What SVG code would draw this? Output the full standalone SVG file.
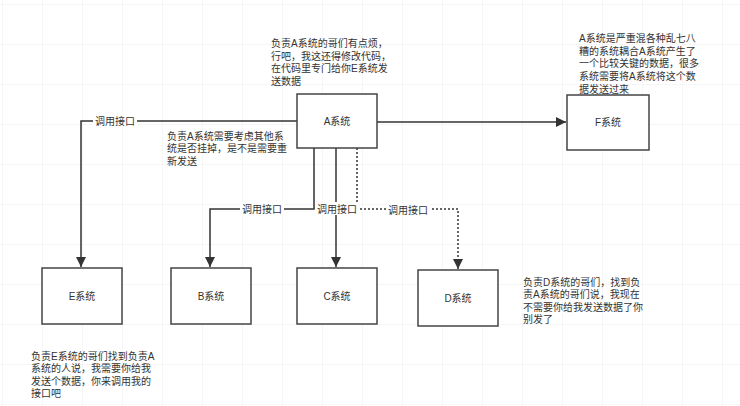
<svg xmlns="http://www.w3.org/2000/svg" width="740" height="406" viewBox="0 0 740 406">
<style>
text{font-family:"Liberation Sans","Noto Sans CJK SC",sans-serif;font-size:10px;fill:#333}
.box{fill:#fff;stroke:#444;stroke-width:1.5}
.c{text-anchor:middle;dominant-baseline:central}
.e{fill:none;stroke:#333;stroke-width:1.5}
.d{fill:none;stroke:#333;stroke-width:1.5;stroke-dasharray:2 2}
.lb{fill:#fff}
</style>
<defs>
<pattern id="g" width="40" height="40" patternUnits="userSpaceOnUse" x="2" y="4">
<path d="M40 0H0V40" fill="none" stroke="#eeeeee" stroke-width="1"/>
</pattern>
<marker id="ar" viewBox="0 0 10 10" refX="10" refY="5" markerWidth="6" markerHeight="6" orient="auto" markerUnits="userSpaceOnUse">
<path d="M0 0L10 5L0 10z" fill="#333"/>
</marker>
<marker id="arb" viewBox="0 0 10 10" refX="10" refY="5" markerWidth="7" markerHeight="7" orient="auto">
<path d="M0 0L10 5L0 10z" fill="#333"/>
</marker>
</defs>
<rect width="740" height="406" fill="#fff"/>
<rect width="740" height="406" fill="url(#g)"/>
<g id="connectors">
<path class="e" d="M297 121H81V267" marker-end="url(#arb)"/>
<path class="e" d="M377 122H566" marker-end="url(#arb)"/>
<path class="e" d="M314 148V209H210V267" marker-end="url(#arb)"/>
<path class="e" d="M336 148V267" marker-end="url(#arb)"/>
<path class="d" d="M357 148V209H458V269" marker-end="url(#arb)"/>
<rect class="lb" x="93" y="114" width="44" height="13"/>
<text x="115" y="121" class="c">调用接口</text>
<rect class="lb" x="240" y="202" width="44" height="13"/>
<text x="262" y="209" class="c">调用接口</text>
<rect class="lb" x="315" y="202" width="44" height="13"/>
<text x="337" y="209" class="c">调用接口</text>
<rect class="lb" x="386" y="203" width="44" height="13"/>
<text x="408" y="210" class="c">调用接口</text>
</g>
<g id="A"><rect class="box" x="297" y="94" width="80" height="54"/><text x="337" y="121" class="c">A系统</text></g>
<g id="F"><rect class="box" x="567" y="95" width="82" height="55"/><text x="608" y="122" class="c">F系统</text></g>
<g id="E"><rect class="box" x="42" y="268" width="80" height="56"/><text x="82" y="296" class="c">E系统</text></g>
<g id="B"><rect class="box" x="171" y="268" width="80" height="56"/><text x="211" y="296" class="c">B系统</text></g>
<g id="C"><rect class="box" x="297" y="268" width="80" height="56"/><text x="337" y="296" class="c">C系统</text></g>
<g id="D"><rect class="box" x="418" y="270" width="80" height="56"/><text x="458" y="298" class="c">D系统</text></g>
<g id="noteA">
<text x="271" y="47">负责A系统的哥们有点烦，</text>
<text x="271" y="60">行吧，我这还得修改代码，</text>
<text x="271" y="72">在代码里专门给你E系统发</text>
<text x="271" y="85">送数据</text>
</g>
<g id="noteA2">
<text x="167" y="140">负责A系统需要考虑其他系</text>
<text x="167" y="152">统是否挂掉，是不是需要重</text>
<text x="167" y="165">新发送</text>
</g>
<g id="noteF">
<text x="579" y="42">A系统是严重混各种乱七八</text>
<text x="579" y="55">糟的系统耦合A系统产生了</text>
<text x="579" y="67">一个比较关键的数据，很多</text>
<text x="579" y="80">系统需要将A系统将这个数</text>
<text x="579" y="93">据发送过来</text>
</g>
<g id="noteE">
<text x="31" y="360">负责E系统的哥们找到负责A</text>
<text x="31" y="372">系统的人说，我需要你给我</text>
<text x="31" y="385">发送个数据，你来调用我的</text>
<text x="31" y="397">接口吧</text>
</g>
<g id="noteD">
<text x="523" y="286">负责D系统的哥们，找到负</text>
<text x="523" y="298">责A系统的哥们说，我现在</text>
<text x="523" y="311">不需要你给我发送数据了你</text>
<text x="523" y="323">别发了</text>
</g>
</svg>
